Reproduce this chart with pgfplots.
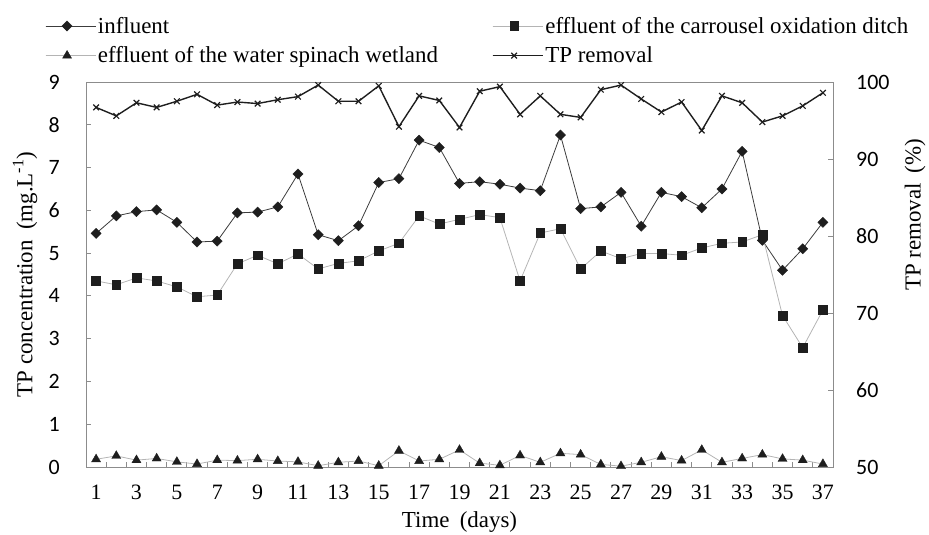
\documentclass[border=0pt]{standalone}
\usepackage{fontspec}
\setmainfont{Liberation Serif}
\newfontfamily\carlito{Carlito}
\usepackage{pgfplots}
\pgfplotsset{compat=1.18}
\usepackage{pgfplotstable}

\pgfplotstableread{
day inf eff wet rem
1 5.46 4.35 0.18 96.7
2 5.87 4.26 0.26 95.6
3 5.97 4.42 0.16 97.3
4 6.01 4.35 0.20 96.7
5 5.72 4.21 0.12 97.5
6 5.26 3.98 0.07 98.4
7 5.28 4.02 0.16 97.0
8 5.94 4.75 0.15 97.4
9 5.96 4.95 0.18 97.2
10 6.08 4.75 0.14 97.7
11 6.85 4.98 0.12 98.1
12 5.43 4.63 0.03 99.6
13 5.29 4.76 0.11 97.5
14 5.64 4.82 0.14 97.5
15 6.65 5.05 0.03 99.5
16 6.74 5.23 0.38 94.2
17 7.64 5.87 0.14 98.2
18 7.47 5.68 0.18 97.6
19 6.63 5.79 0.40 94.1
20 6.67 5.90 0.09 98.8
21 6.61 5.83 0.04 99.4
22 6.52 4.35 0.27 95.8
23 6.46 5.47 0.11 98.2
24 7.76 5.57 0.32 95.8
25 6.04 4.63 0.29 95.4
26 6.08 5.05 0.06 99.0
27 6.42 4.87 0.02 99.6
28 5.63 4.99 0.11 97.8
29 6.42 4.99 0.24 96.1
30 6.32 4.95 0.15 97.4
31 6.06 5.12 0.40 93.7
32 6.50 5.23 0.11 98.2
33 7.38 5.26 0.20 97.3
34 5.30 5.43 0.29 94.8
35 4.60 3.54 0.19 95.6
36 5.10 2.79 0.16 96.9
37 5.72 3.67 0.07 98.6
}\data

\definecolor{axgray}{RGB}{140,140,140}
\definecolor{linedark}{RGB}{60,60,60}
\definecolor{linelight}{RGB}{180,180,180}
\definecolor{markblack}{RGB}{30,30,30}

\pgfplotsset{
  common/.style={
    at={(86bp,68bp)}, anchor=south west,
    width=747bp, height=385bp, scale only axis,
    xmin=0.5, xmax=37.5,
    clip=false,
    tick align=inside,
    major tick length=5bp,
    minor tick length=5bp,
    axis line style={draw=axgray, line width=1pt},
    every tick/.style={draw=axgray, line width=1pt},
    /pgf/number format/assume math mode=true,
  },
  legend image code/.code={
    \path (0bp,0bp) -- (50bp,0bp);
    \draw[mark repeat=2,mark phase=2,#1] plot coordinates {(0bp,0bp) (21.5bp,0bp) (43bp,0bp)};
  },
}

\begin{document}
\begin{tikzpicture}
\useasboundingbox (0,0) rectangle (929bp,535bp);
\begin{axis}[
  common,
  ymin=0, ymax=9,
  ytick={0,1,...,9},
  xtick={1,3,...,37},
  minor xtick={1.5,2.5,...,36.5},
  major x tick style={draw=none},
  xtick pos=bottom, ytick pos=left,
  yticklabel style={font=\carlito\fontsize{22}{22}\selectfont, anchor=east, inner sep=0pt, xshift=-26bp},
  xticklabel style={font=\fontsize{22}{22}\selectfont, anchor=base, inner sep=0pt, yshift=-32.5bp},
  xlabel={Time\hspace{0.45em}(days)},
  xlabel style={font=\fontsize{23}{23}\selectfont, at={(rel axis cs:0.5,0)}, anchor=base, inner sep=0pt, yshift=-60bp},
  ylabel={TP concentration\hspace{0.45em}(mg.L\textsuperscript{-1})},
  ylabel style={font=\fontsize{23}{23}\selectfont, at={(rel axis cs:0,0.5)}, anchor=center, inner sep=0pt, yshift=61bp},
  legend columns=2,
  legend cell align=left,
  legend style={draw=none, fill=none, font=\fontsize{23}{23}\selectfont,
    at={(axis description cs:-0.0549,1.174)}, anchor=north west,
    inner sep=0pt, row sep=8bp,
    /tikz/every even column/.append style={column sep=52bp}},
]
\addplot[color=linedark, line width=0.8pt, mark=square*, mark size=3.6bp,
  mark options={solid, fill=markblack, draw=markblack, line width=0.4pt, rotate=45}]
  table[x=day, y=inf] {\data};
\addlegendentry{influent}
\addplot[color=linelight, line width=0.8pt, mark=square*, mark size=4.4bp,
  mark options={solid, fill=markblack, draw=markblack, line width=0.4pt}]
  table[x=day, y=eff] {\data};
\addlegendentry{effluent of the carrousel oxidation ditch}
\addplot[color=linelight, line width=0.8pt, mark=triangle*, mark size=5.2bp,
  mark options={solid, fill=markblack, draw=markblack, line width=0.4pt}]
  table[x=day, y=wet] {\data};
\addlegendentry{effluent of the water spinach wetland}
\addlegendimage{color=markblack, line width=1.4pt, mark=x, mark size=4bp, mark options={solid, line width=1.2pt}}
\addlegendentry{TP removal}
\end{axis}

\begin{axis}[
  common,
  ymin=50, ymax=100,
  ytick={50,60,...,100},
  axis x line=none,
  axis y line*=right,
  ytick pos=right,
  yticklabel style={font=\carlito\fontsize{22}{22}\selectfont, anchor=west, inner sep=0pt, xshift=23bp},
  ylabel={TP removal\hspace{0.45em}(\%)},
  ylabel style={font=\fontsize{23}{23}\selectfont, at={(rel axis cs:1,0.655)}, anchor=center, inner sep=0pt, yshift=-82bp},
]
\addplot[color=markblack, line width=1.4pt, mark=x, mark size=4bp, mark options={solid, line width=1.2pt}]
  table[x=day, y=rem] {\data};
\end{axis}
\end{tikzpicture}
\end{document}
